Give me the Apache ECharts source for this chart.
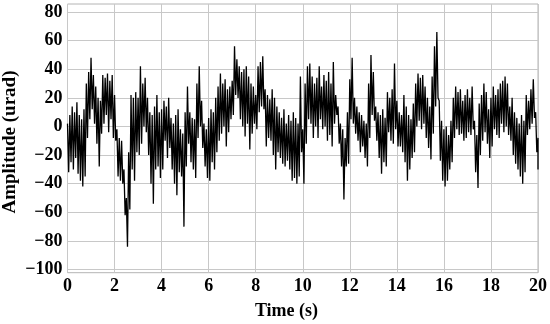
<!DOCTYPE html>
<html>
<head>
<meta charset="utf-8">
<script src="https://cdn.jsdelivr.net/npm/echarts@6/dist/echarts.min.js"></script>
<style>html,body{margin:0;padding:0;background:#fff}#c{width:550px;height:324px}</style>
</head>
<body>
<div id="c"></div>
<script>
// Sample times every 0.1 s (0..20); upper and lower excursions of the signal
const timeStep = 0.1;
const upper = [
  2, 8, 14, 10, 17, 8, 5, 12, 30, 38,
  48, 36, 28, 20, 18, 36, 34, 37, 32, 36,
  22, -2, -8, -10, -30, -50, -18, 22, 20, 24,
  20, 42, 30, 34, 20, 10, 8, 14, 22, 10,
  12, 18, 14, 20, 6, 2, 8, 12, -2, -5,
  10, 28, 10, 6, 5, 30, 42, 18, 2, -2,
  6, 12, 10, 20, 28, 37, 30, 33, 26, 28,
  32, 56, 47, 42, 38, 40, 42, 35, 30, 28,
  22, 42, 45, 49, 26, 22, 19, 26, 20, 14,
  10, 6, 12, 2, 8, 4, 10, 6, 2, 35,
  -2, 30, 42, 44, 35, 30, 34, 42, 28, 36,
  32, 38, 30, 45, 22, 14, 2, -2, -8, 10,
  33, 48, 20, 14, 10, 8, 4, 2, 30, 50,
  38, 14, 10, 8, 12, 6, 24, 20, 26, 44,
  18, 10, 8, 22, 14, 8, 5, 16, 30, 37,
  34, 36, 28, 20, 14, 35, 56, 66, 18, 4,
  -2, 0, -6, 4, 20, 28, 24, 26, 18, 22,
  26, 20, 28, 4, -6, 16, 22, 30, 24, 12,
  20, 28, 22, 26, 30, 32, 35, 30, 14, 20,
  10, 6, 2, 8, 4, 22, 18, 26, 33, 10,
  -8
];
const lower = [
  -32, -25, -30, -22, -33, -38, -42, -35, -8, 5,
  12, 2, -12, -28, -5, 2, 8, -4, 5, -8,
  -10, -35, -38, -40, -62, -84, -58, -30, -38, -18,
  -20, -12, 0, -4, -20, -40, -54, -30, -28, -36,
  -30, -10, -22, -15, -30, -40, -48, -32, -35, -70,
  -28, -12, -25, -30, -36, -8, 0, -15, -28, -36,
  -38, -25, -30, -18, -10, -5, 0, -14, -4, 5,
  8, 22, 20, 5, 0, -7, 2, -16, -5, 2,
  -2, 10, 14, 12, -14, -8, -10, -20, -30, -18,
  -22, -26, -28, -24, -30, -38, -36, -40, -35, -18,
  -40, -12, 5, 2, -8, 0, -8, 5, -2, 0,
  -10, -6, -14, 2, 8, -12, -28, -51, -28, -26,
  5, 2, -5, -10, -18, -14, -22, -28, -8, 8,
  4, -10, -22, -33, -25, -28, -4, -10, -12, -2,
  -14, -14, -18, -25, -38, -30, -22, -18, 0, 4,
  -2, 2, -8, -15, -23, -5, 14, 20, -24, -38,
  -42, -38, -30, -25, -8, -2, -6, -5, -10, -8,
  -4, -6, -2, -32, -43, -20, -10, -4, -12, -22,
  -14, -2, -6, -8, 2, -4, 0, -6, -10, -20,
  -26, -30, -35, -40, -32, -6, -2, 2, 6, -18,
  -30
];
const xTicks = [0, 2, 4, 6, 8, 10, 12, 14, 16, 18, 20];
const yTicks = [-100, -80, -60, -40, -20, 0, 20, 40, 60, 80];
const xTitle = 'Time (s)';
const yTitle = 'Amplitude (urad)';

const series = [];
for (let i = 0; i < upper.length; i++) {
  const t = +(i * timeStep).toFixed(2);
  series.push([t, upper[i]]);
  if (t + timeStep / 2 <= 20) series.push([+(t + timeStep / 2).toFixed(3), lower[i]]);
  else series.push([t, lower[i]]);
}

const font = '"Liberation Serif","Times New Roman",serif';
const chart = echarts.init(document.getElementById('c'), null, {renderer: 'canvas'});
chart.setOption({
  animation: false,
  backgroundColor: '#fff',
  grid: {left: 67.5, right: 7.5, top: 4, bottom: 51.3, show: true, borderColor: '#b4b4b4', borderWidth: 1, backgroundColor: 'transparent'},
  xAxis: {
    type: 'value', min: 0, max: 20, interval: 2,
    axisLine: {show: false}, axisTick: {show: false},
    splitLine: {show: true, lineStyle: {color: '#c8c8c8', width: 1}},
    axisLabel: {margin: 5, color: '#000', fontFamily: font, fontWeight: 'bold', fontSize: 18,
      customValues: xTicks, formatter: v => String(v)}
  },
  yAxis: {
    type: 'value', min: -102.2, max: 85.6,
    axisLine: {show: false}, axisTick: {show: false, customValues: yTicks},
    splitLine: {show: true, lineStyle: {color: '#c8c8c8', width: 1}},
    axisLabel: {margin: 5, color: '#000', fontFamily: font, fontWeight: 'bold', fontSize: 18,
      customValues: yTicks, formatter: v => String(v).replace('-', '\u2212')}
  },
  graphic: [
    {type: 'text', x: 286.5, y: 311, style: {text: xTitle, font: 'bold 18px ' + font, fill: '#000', textAlign: 'center', textVerticalAlign: 'middle'}},
    {type: 'text', x: 10, y: 142, rotation: Math.PI / 2, style: {text: yTitle, font: 'bold 19px ' + font, fill: '#000', textAlign: 'center', textVerticalAlign: 'middle'}}
  ],
  series: [{
    type: 'line', data: series, showSymbol: false, sampling: false,
    lineStyle: {color: '#000', width: 1.3}
  }]
});
</script>
</body>
</html>
